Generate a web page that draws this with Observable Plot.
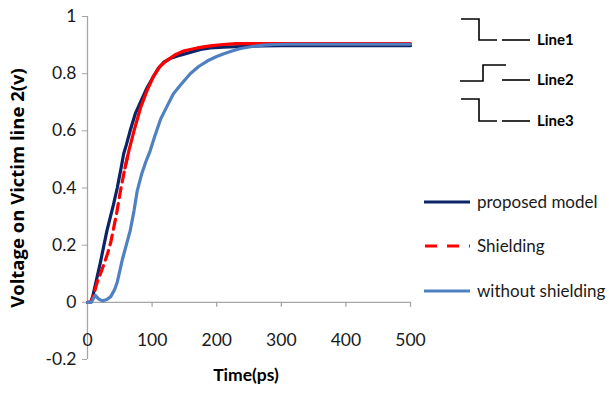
<!DOCTYPE html>
<html>
<head>
<meta charset="utf-8">
<script src="https://cdn.jsdelivr.net/npm/d3@7"></script>
<script src="https://cdn.jsdelivr.net/npm/@observablehq/plot@0.6"></script>
<style>
  html, body { margin: 0; padding: 0; background: #fff; }
  #wrap { position: relative; width: 609px; height: 396px; font-family: Lato, "Open Sans", sans-serif; }
  #legend { position: absolute; left: 0; top: 0; pointer-events: none; }
</style>
</head>
<body>
<div id="wrap"></div>
<script>
// ---- data ----
const xTicks = [0, 100, 200, 300, 400, 500];
const yTicks = [-0.2, 0, 0.2, 0.4, 0.6, 0.8, 1];

const proposedT = [0, 5, 8, 20, 30, 40, 46, 52, 56, 60, 66, 74, 82, 92, 102, 110, 118, 130, 144, 160, 175, 190, 210, 240, 270, 300, 400, 500];
const proposedV = [0, 0, 0.02, 0.14, 0.25, 0.34, 0.40, 0.47, 0.52, 0.55, 0.60, 0.66, 0.70, 0.75, 0.79, 0.82, 0.84, 0.855, 0.865, 0.875, 0.885, 0.89, 0.893, 0.895, 0.897, 0.898, 0.898, 0.898];

const shieldT = [0, 5, 10, 15, 25, 31, 36, 45, 51, 58, 64, 72, 82, 92, 102, 112, 122, 135, 150, 170, 190, 210, 230, 250, 280, 300, 500];
const shieldV = [0, 0, 0.03, 0.07, 0.13, 0.17, 0.21, 0.31, 0.39, 0.47, 0.53, 0.60, 0.68, 0.74, 0.79, 0.825, 0.845, 0.865, 0.88, 0.89, 0.897, 0.902, 0.905, 0.905, 0.905, 0.905, 0.905];

const noShieldT = [0, 6, 12, 17, 23, 30, 36, 42, 46, 50, 54, 60, 66, 72, 77, 84, 90, 97, 104, 113, 124, 133, 144, 159, 172, 186, 200, 211, 225, 237, 255, 272, 290, 310, 400, 500];
const noShieldV = [0, 0, 0.025, 0.012, 0.005, 0.01, 0.02, 0.045, 0.07, 0.11, 0.15, 0.2, 0.25, 0.32, 0.39, 0.45, 0.49, 0.53, 0.58, 0.64, 0.69, 0.73, 0.76, 0.80, 0.825, 0.845, 0.86, 0.87, 0.88, 0.888, 0.895, 0.9, 0.902, 0.903, 0.903, 0.903];

const seriesNames = ["proposed model", "Shielding", "without shielding"];
const seriesColors = ["#0b2466", "#ff0000", "#4f81c2"];
const seriesDash = [null, "10,6", null];
const lineLabels = ["Line1", "Line2", "Line3"];

// ---- build tables ----
const toRows = (T, V) => T.map((t, i) => ({t, v: V[i]}));
const proposed = toRows(proposedT, proposedV);
const shield = toRows(shieldT, shieldV);
const noShield = toRows(noShieldT, noShieldV);

const axisGray = "#a6a6a6";

const chart = Plot.plot({
  width: 609,
  height: 396,
  marginLeft: 87,
  marginRight: 199,
  marginTop: 16,
  marginBottom: 37,
  style: {fontFamily: "Lato, 'Open Sans', sans-serif", fontSize: "17px", color: "#1a1a1a", background: "transparent", overflow: "visible"},
  x: {domain: [0, 500]},
  y: {domain: [-0.2, 1]},
  marks: [
    // axis lines
    Plot.ruleX([0], {y1: -0.2, y2: 1, stroke: axisGray, strokeWidth: 1.3}),
    Plot.ruleY([0], {x1: 0, x2: 500, stroke: axisGray, strokeWidth: 1.3}),
    // x ticks hanging below the zero line
    Plot.ruleX(xTicks.filter(d => d > 0), {x: d => d, y1: 0, y2: -0.0175, stroke: axisGray, strokeWidth: 1.3}),
    Plot.axisY({ticks: yTicks, tickSize: 5, tickPadding: 6, stroke: axisGray, fill: "#1a1a1a", tickFormat: d => String(d), label: null, fontSize: 17.5}),
    Plot.axisX({ticks: xTicks, tickSize: 0, tickPadding: 0, dy: -26, fill: "#1a1a1a", tickFormat: d => String(d), label: null, fontSize: 17.5}),
    // series
    Plot.line(proposed, {x: "t", y: "v", stroke: seriesColors[0], strokeWidth: 3.2}),
    Plot.line(shield.filter(d => d.t <= 64), {x: "t", y: "v", stroke: seriesColors[1], strokeWidth: 3.2, strokeDasharray: seriesDash[1]}),
    Plot.line(shield.filter(d => d.t >= 58), {x: "t", y: "v", stroke: seriesColors[1], strokeWidth: 3.2}),
    Plot.line(noShield, {x: "t", y: "v", stroke: seriesColors[2], strokeWidth: 3.2}),
    // axis titles
    Plot.text(["Time(ps)"], {frameAnchor: "bottom", dy: 21, dx: -3, fontWeight: "bold", fontSize: 17.5, fill: "#000"}),
    Plot.text(["Voltage on Victim line 2(v)"], {frameAnchor: "left", textAnchor: "middle", rotate: -90, dx: -69, fontWeight: "bold", fontSize: 18.5, fill: "#000", fontFamily: "'Open Sans', sans-serif"})
  ]
});

const wrap = document.getElementById("wrap");
wrap.appendChild(chart);

// ---- legend overlay ----
const ns = "http://www.w3.org/2000/svg";
const leg = document.createElementNS(ns, "svg");
leg.setAttribute("id", "legend");
leg.setAttribute("width", 609);
leg.setAttribute("height", 396);
const sel = d3.select(leg);

const legY = [202, 246, 291];
seriesNames.forEach((name, i) => {
  sel.append("line").attr("x1", 424).attr("x2", 470).attr("y1", legY[i]).attr("y2", legY[i])
    .attr("stroke", seriesColors[i]).attr("stroke-width", 3.2)
    .attr("stroke-dasharray", i === 1 ? "12,10" : null).attr("stroke-dashoffset", i === 1 ? -1 : null);
  sel.append("text").attr("x", 477).attr("y", legY[i]).attr("dy", "0.35em")
    .attr("font-family", "Lato, 'Open Sans', sans-serif").attr("font-size", 17).attr("fill", "#1a1a1a").text(name);
});

// step-waveform schematic
const stepPaths = [
  "M461,19 H479 V40 H497",
  "M460,81 H483 V65 H506",
  "M461,99 H479 V121 H497"
];
const stepY = [40, 80, 121];
lineLabels.forEach((lab, i) => {
  sel.append("path").attr("d", stepPaths[i]).attr("fill", "none").attr("stroke", "#000").attr("stroke-width", 1.6);
  sel.append("line").attr("x1", 502).attr("x2", 530).attr("y1", stepY[i]).attr("y2", stepY[i])
    .attr("stroke", "#000").attr("stroke-width", 1.6);
  sel.append("text").attr("x", 537).attr("y", stepY[i]).attr("dy", "0.35em")
    .attr("font-family", "Lato, 'Open Sans', sans-serif").attr("font-weight", "bold").attr("font-size", 15)
    .attr("fill", "#000").text(lab);
});
wrap.appendChild(leg);
</script>
</body>
</html>
